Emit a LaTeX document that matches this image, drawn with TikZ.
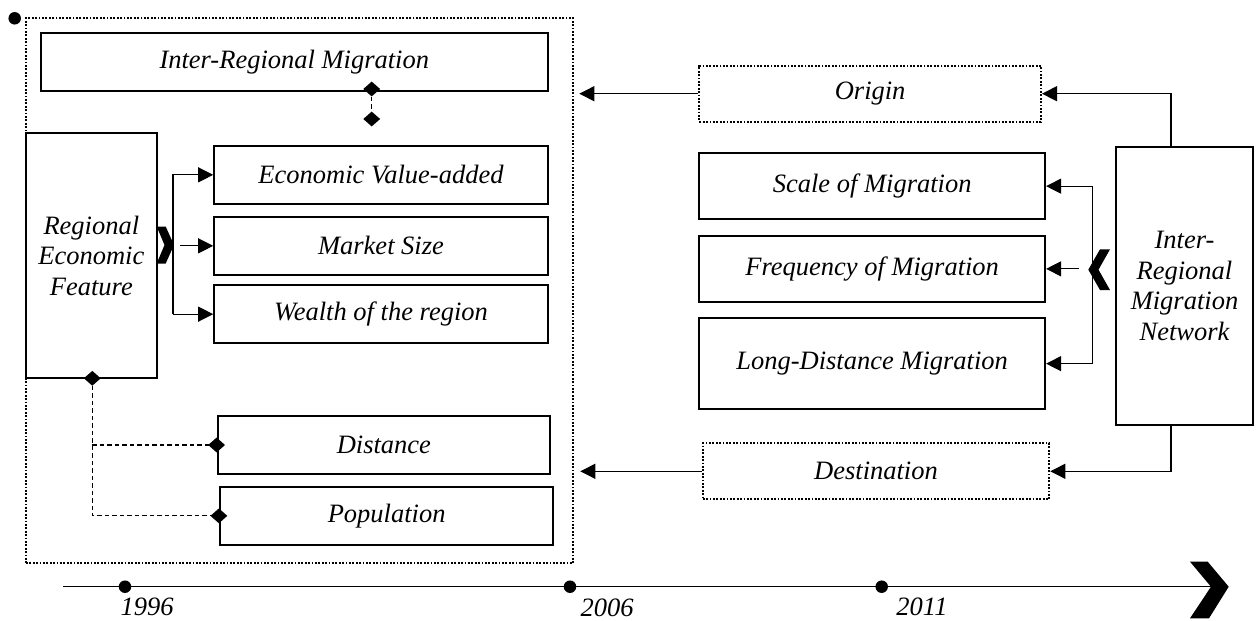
\documentclass[tikz,border=0pt]{standalone}
\usepackage{fontspec}
\setmainfont{Liberation Serif}
\usetikzlibrary{arrows.meta,shapes.geometric,calc}
\begin{document}
\begin{tikzpicture}[x=1pt,y=-1pt,
  font=\fontsize{26.5}{30.5}\selectfont\itshape,
  box/.style={draw,line width=2.2pt,inner sep=0pt,align=center},
  dbox/.style={draw,line width=2pt,dash pattern=on 1.8pt off 1.6pt,inner sep=0pt,align=center},
  arr/.style={line width=1.1pt,-{Triangle[length=15pt,width=15pt]}},
  dsh/.style={line width=1.1pt,dash pattern=on 4.5pt off 3pt},
  diam/.style={diamond,fill,draw=none,inner sep=0pt,minimum width=17pt,minimum height=15pt},
  dot/.style={circle,fill,inner sep=0pt,minimum size=12.5pt},
  plain/.style={line width=1.1pt}
]
\useasboundingbox (0,0) rectangle (1256,621);

% outer dotted group
\node[dbox,minimum width=547.3pt,minimum height=545pt] (grp) at (299.65,290.8) {};
\node[dot] (topdot) at (14.7,18.3) {};

% left side boxes
\node[box,minimum width=506.7pt,minimum height=58.3pt] (irm) at (294.3,61.85) {Inter-Regional Migration};
\node[box,minimum width=130.7pt,minimum height=245.3pt] (re) at (91.35,255.65) {Regional\\Economic\\Feature};
\node[box,minimum width=333.4pt,minimum height=58.3pt] (eco) at (381,174.85) {Economic Value-added};
\node[box,minimum width=333.4pt,minimum height=58.3pt] (mkt) at (381,245.85) {Market Size};
\node[box,minimum width=333.4pt,minimum height=58.3pt] (wlt) at (381,314.15) {Wealth of the region};
\node[box,minimum width=332.3pt,minimum height=58pt] (dist) at (383.85,445) {Distance};
\node[box,minimum width=333.3pt,minimum height=58.3pt] (pop) at (386.65,515.85) {Population};

% right side boxes
\node[dbox,minimum width=341.7pt,minimum height=56pt] (orig) at (870.15,93.7) {Origin};
\node[box,minimum width=345.7pt,minimum height=65.7pt] (scl) at (872.15,186.15) {Scale of Migration};
\node[box,minimum width=345.7pt,minimum height=65.7pt] (frq) at (872.15,268.85) {Frequency of Migration};
\node[box,minimum width=345.7pt,minimum height=90.7pt] (lng) at (872.15,363.65) {Long-Distance Migration};
\node[dbox,minimum width=346.6pt,minimum height=56pt] (dst) at (876,471.3) {Destination};
\node[box,minimum width=137pt,minimum height=278.3pt] (net) at (1184.5,285.85) {Inter-\\Regional\\Migration\\Network};

% diamonds and dashed links
\node[diam] (d1) at (371.7,89) {};
\node[diam] (d2) at (371.7,119) {};
\draw[dsh] (d1.center) -- (d2.center);
\node[diam] (d3) at (92.3,378.3) {};
\node[diam] (d4) at (dist.west) {};
\node[diam] (d5) at (pop.west) {};
\draw[dsh] (d3.center) |- (d5.center);
\draw[dsh] (d3.center |- d4.center) -- (d4.center);

% left bracket
\coordinate (bl) at (173,0);
\coordinate (bm) at (180,0);
\draw[arr] (bl |- wlt.west) |- (eco.west);
\draw[arr] (bl |- wlt.west) -- (wlt.west);
\draw[arr] (bm |- mkt.west) -- (mkt.west);
\fill (156.7,226.5) -- (165.7,226.5) -- (174,245) -- (165.7,263.5) -- (156.7,263.5) -- (164.5,245) -- cycle;

% right bracket
\coordinate (br) at (1092.7,0);
\coordinate (bf) at (1079,0);
\draw[arr] (br |- lng.east) |- (scl.east);
\draw[arr] (br |- lng.east) -- (lng.east);
\draw[arr] (bf |- frq.east) -- (frq.east);
\fill (1110,249.3) -- (1100,249.3) -- (1088.3,269.7) -- (1100,290) -- (1110,290) -- (1098.5,269.7) -- cycle;

% origin / destination flows
\draw[arr] ([xshift=-13.5pt]net.north) |- (orig.east);
\draw[arr] ([xshift=-13.5pt]net.south) |- (dst.east);
\draw[arr] (orig.west) -- ([xshift=5pt]grp.east |- orig.west);
\draw[arr] (dst.west) -- ([xshift=6pt]grp.east |- dst.west);

% timeline
\coordinate (tl0) at (63.3,586.7);
\coordinate (tl1) at (1211,586.7);
\draw[plain] (tl0) -- (tl1);
\node[dot] (t1) at (125,586.7) {};
\node[dot] (t2) at (570,586.7) {};
\node[dot] (t3) at (881.7,586.7) {};
\fill (1190,561.7) -- (1207.7,561.7) -- (1228.7,586.7) -- (1209,618.3) -- (1190,618.3) -- (1211,586.7) -- cycle;
\node (y1) at (147,607) {1996};
\node (y2) at (607,608) {2006};
\node (y3) at (922,607) {2011};
\end{tikzpicture}
\end{document}
